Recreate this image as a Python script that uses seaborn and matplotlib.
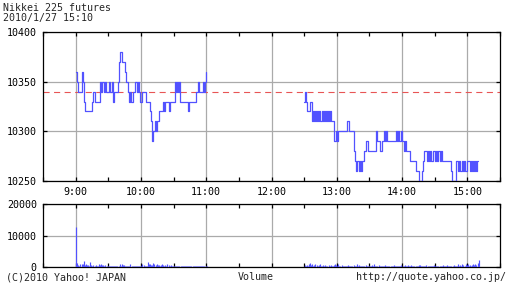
import numpy as np
import pandas as pd
import matplotlib
matplotlib.use("Agg")
import matplotlib.pyplot as plt
import seaborn as sns
from matplotlib.ticker import FixedLocator, MultipleLocator

# ---------------- data ----------------
title = "Nikkei 225 futures"
timestamp = "2010/1/27 15:10"
prev_close = 10340

# one value per minute, morning session starting 9:00
am_price = [
    10360, 10350, 10340, 10340, 10340, 10340, 10360, 10350, 10330, 10320,
    10320, 10320, 10320, 10320, 10320, 10330, 10340, 10340, 10330, 10330,
    10330, 10330, 10350, 10340, 10350, 10350, 10340, 10350, 10340, 10340,
    10340, 10350, 10340, 10350, 10330, 10340, 10340, 10340, 10340, 10350,
    10370, 10380, 10380, 10370, 10370, 10360, 10350, 10350, 10340, 10330,
    10340, 10330, 10330, 10340, 10340, 10350, 10340, 10350, 10340, 10330,
    10330, 10340, 10340, 10340, 10340, 10330, 10330, 10330, 10320, 10310,
    10290, 10300, 10300, 10310, 10300, 10310, 10310, 10320, 10320, 10320,
    10330, 10320, 10330, 10330, 10330, 10330, 10320, 10330, 10330, 10330,
    10330, 10350, 10340, 10350, 10340, 10350, 10330, 10330, 10330, 10330,
    10330, 10330, 10330, 10320, 10330, 10330, 10330, 10330, 10330, 10330,
    10330, 10340, 10350, 10340, 10340, 10340, 10340, 10350, 10340, 10350,
    10360,
]
# afternoon session starting 12:30
pm_price = [
    10330, 10340, 10330, 10320, 10320, 10330, 10330, 10310, 10320, 10310,
    10320, 10310, 10320, 10310, 10320, 10310, 10320, 10310, 10320, 10310,
    10320, 10310, 10320, 10310, 10320, 10310, 10310, 10290, 10290, 10300,
    10290, 10300, 10300, 10300, 10300, 10300, 10300, 10300, 10300, 10310,
    10310, 10300, 10300, 10300, 10300, 10300, 10280, 10270, 10260, 10270,
    10260, 10270, 10260, 10270, 10270, 10280, 10280, 10290, 10290, 10280,
    10280, 10280, 10280, 10280, 10280, 10280, 10300, 10290, 10290, 10290,
    10280, 10280, 10290, 10300, 10290, 10300, 10290, 10290, 10290, 10290,
    10290, 10290, 10290, 10290, 10300, 10290, 10300, 10290, 10290, 10300,
    10290, 10290, 10280, 10290, 10280, 10280, 10280, 10270, 10270, 10270,
    10270, 10270, 10270, 10260, 10260, 10260, 10250, 10250, 10260, 10270,
    10280, 10280, 10280, 10270, 10280, 10270, 10280, 10270, 10280, 10280,
    10270, 10280, 10270, 10280, 10280, 10270, 10280, 10270, 10270, 10270,
    10270, 10270, 10270, 10270, 10270, 10260, 10250, 10250, 10250, 10250,
    10270, 10260, 10270, 10260, 10260, 10270, 10260, 10270, 10260, 10260,
    10270, 10270, 10260, 10270, 10260, 10270, 10260, 10270, 10260, 10270,
    10270,
]
am_vol = [
    12800, 1200, 600, 300, 800, 900, 1000, 1800, 600, 800,
    500, 700, 300, 1500, 500, 400, 500, 300, 500, 400,
    300, 800, 700, 800, 600, 500, 300, 500, 400, 200,
    400, 300, 300, 200, 300, 300, 400, 300, 200, 400,
    1100, 300, 800, 500, 600, 200, 300, 300, 200, 300,
    800, 200, 400, 300, 200, 400, 400, 300, 200, 300,
    200, 800, 600, 300, 400, 200, 1500, 1000, 800, 600,
    500, 1200, 1100, 700, 800, 700, 500, 400, 700, 800,
    600, 300, 500, 200, 800, 500, 300, 700, 300, 200,
    300, 200, 300, 200, 300, 200, 400, 200, 200, 300,
    400, 200, 200, 300, 300, 200, 200, 300, 200, 200,
    300, 400, 200, 300, 200, 300, 300, 400, 300, 200,
    400,
]
pm_vol = [
    600, 400, 500, 300, 800, 1300, 500, 900, 400, 700,
    1100, 600, 300, 500, 800, 400, 300, 600, 200, 500,
    400, 300, 700, 200, 500, 300, 400, 600, 1000, 500,
    300, 1100, 400, 200, 500, 300, 200, 400, 300, 200,
    600, 300, 200, 400, 300, 500, 200, 300, 900, 400,
    600, 300, 200, 400, 200, 300, 700, 200, 300, 400,
    200, 300, 500, 200, 800, 300, 200, 400, 600, 200,
    300, 400, 200, 300, 500, 200, 300, 200, 400, 300,
    200, 300, 600, 200, 300, 400, 200, 300, 200, 500,
    300, 200, 700, 400, 300, 600, 400, 200, 500, 300,
    200, 400, 300, 200, 300, 500, 600, 300, 200, 400,
    300, 200, 600, 300, 200, 400, 300, 200, 300, 500,
    200, 300, 400, 200, 300, 200, 400, 600, 300, 200,
    300, 500, 200, 300, 400, 200, 300, 700, 200, 400,
    300, 800, 200, 500, 300, 900, 600, 300, 1000, 500,
    800, 400, 700, 300, 600, 1100, 500, 900, 700, 1400,
    2100,
]
am_start_hour = 9.0
pm_start_hour = 12.5
hour_ticks = [9, 10, 11, 12, 13, 14, 15]
hour_labels = ["9:00", "10:00", "11:00", "12:00", "13:00", "14:00", "15:00"]
price_ticks = [10250, 10300, 10350, 10400]
vol_ticks = [0, 10000, 20000]
footer_left = "(C)2010 Yahoo! JAPAN"
footer_mid = "Volume"
footer_right = "http://quote.yahoo.co.jp/"

# ---------------- frames ----------------
am_t = am_start_hour + np.arange(len(am_price)) / 60.0
pm_t = pm_start_hour + np.arange(len(pm_price)) / 60.0
am_df = pd.DataFrame({"t": am_t, "price": am_price, "vol": am_vol})
pm_df = pd.DataFrame({"t": pm_t, "price": pm_price, "vol": pm_vol})

# ---------------- style ----------------
sns.set_theme(style="white")
plt.rcParams["font.family"] = ["DejaVu Sans Mono", "DejaVu Sans"]
FS = 7.2
BLUE = "#5252ff"
GRID = "#aaaaaa"

W, H = 512, 288
fig = plt.figure(figsize=(W / 100, H / 100), dpi=100)
fig.patch.set_facecolor("white")

ax1 = fig.add_axes([43 / W, (H - 181) / H, 457 / W, 149 / H])
ax2 = fig.add_axes([43 / W, (H - 267) / H, 457 / W, 63 / H])

for ax in (ax1, ax2):
    ax.set_facecolor("white")
    ax.set_xlim(8.5, 15.5)
    ax.xaxis.set_major_locator(FixedLocator(hour_ticks))
    ax.xaxis.set_minor_locator(MultipleLocator(0.5))
    ax.grid(True, which="major", color=GRID, linewidth=0.9)
    ax.set_axisbelow(True)
    for s in ax.spines.values():
        s.set_color("black")
        s.set_linewidth(0.9)
    ax.tick_params(which="both", direction="in", top=True, right=True,
                   bottom=True, left=True, length=3, width=0.9,
                   colors="black", labelsize=FS, pad=4.5)
    ax.set_xlabel("")
    ax.set_ylabel("")

# price panel
ax1.axhline(prev_close, color="#e85555", linewidth=0.8,
            linestyle=(0, (5.5, 4)), zorder=2)
sns.lineplot(data=am_df, x="t", y="price", ax=ax1, color=BLUE,
             linewidth=0.9, drawstyle="steps-post", estimator=None, zorder=3)
sns.lineplot(data=pm_df, x="t", y="price", ax=ax1, color=BLUE,
             linewidth=0.9, drawstyle="steps-post", estimator=None, zorder=3)
ax1.set_ylim(price_ticks[0], price_ticks[-1])
ax1.yaxis.set_major_locator(FixedLocator(price_ticks))
ax1.set_xticklabels(hour_labels)
ax1.set_xlabel("")
ax1.set_ylabel("")

# volume panel (one thin bar per minute)
for df in (am_df, pm_df):
    ax2.vlines(df["t"] + 0.4 / 60, 0, df["vol"], color=BLUE,
               linewidth=0.85, zorder=3)
ax2.set_ylim(vol_ticks[0], vol_ticks[-1])
ax2.yaxis.set_major_locator(FixedLocator(vol_ticks))
ax2.tick_params(axis="x", labelbottom=False)

# texts
fig.text(3 / W, 1 - 8 / H, title, ha="left", va="center", fontsize=FS)
fig.text(3 / W, 1 - 18 / H, timestamp, ha="left", va="center", fontsize=FS)
fig.text(6 / W, 1 - 277 / H, footer_left, ha="left", va="center", fontsize=FS)
fig.text(256 / W, 1 - 277 / H, footer_mid, ha="center", va="center", fontsize=FS)
fig.text(506 / W, 1 - 277 / H, footer_right, ha="right", va="center", fontsize=FS)

fig.savefig("out.png", dpi=100, facecolor="white")
